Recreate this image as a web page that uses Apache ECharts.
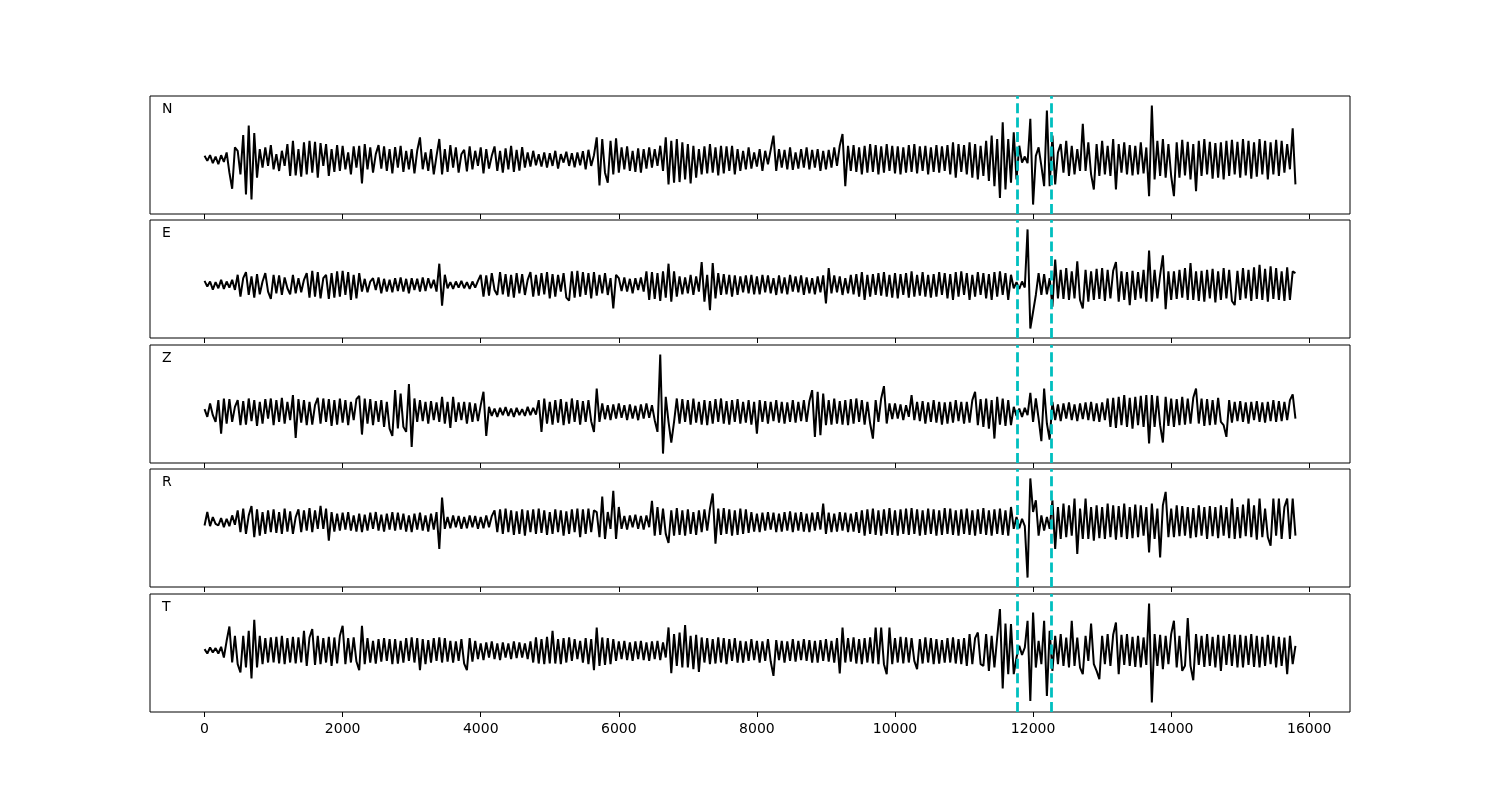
<!DOCTYPE html>
<html><head><meta charset="utf-8">
<script src="https://cdn.jsdelivr.net/npm/echarts@6/dist/echarts.min.js"></script>
<style>html,body{margin:0;padding:0;background:#fff}#c{width:1500px;height:800px}</style>
</head><body><div id="c"></div><script>
// sample spacing of the traces (x units); each row below = 1000 x units
const sampleStep = 40;
const channelNames = ['N', 'E', 'Z', 'R', 'T'];
const xTicks = [0, 2000, 4000, 6000, 8000, 10000, 12000, 14000, 16000];
const xRange = [-790, 16590];
const markerTimes = [11765, 12270];

const N = [
 10,-5,12,-12,8,-15,12,-8,20,-40,-88,35,25,-45,72,-105,100,-120,78,-55,30,-25,35,-20,42,
 -30,15,-35,25,-20,45,-50,55,-48,30,-52,50,-45,55,-40,52,-55,48,-20,45,-50,30,-38,42,-35,
 40,-30,20,-45,38,-25,40,-72,45,-30,35,-40,15,42,-28,38,-35,30,-42,36,-25,40,-38,25,-30,
 30,-42,25,65,-30,20,-35,30,-45,10,60,-45,30,-38,42,-25,35,-40,15,28,-36,38,-30,25,-20,
 35,-42,30,-28,10,38,-35,25,-40,32,-30,40,-38,28,-34,36,-25,20,-22,25,-18,15,-22,20,-25,
 18,-20,25,-28,15,-10,22,-20,18,-24,20,-18,24,-30,28,-20,12,65,-78,60,-40,-70,55,-45,62,
 -40,35,-30,38,-35,25,-38,32,-40,30,-28,35,-25,30,-20,40,-35,65,-75,55,-70,60,-68,50,-60,
 45,-72,40,-55,30,-45,38,-42,45,-40,35,-48,40,-42,38,-35,40,-45,30,-35,25,-30,35,-28,20,
 -22,30,-35,25,-15,28,70,-35,30,-25,28,-30,35,-32,20,-28,30,-25,35,-30,28,-25,30,-35,25,
 -30,28,-25,35,-20,40,75,-80,40,-35,42,-38,35,-45,40,-40,45,-38,42,-45,38,-40,45,-35,40,
 -42,38,-45,35,-40,42,-38,45,-42,38,-35,40,-45,35,-38,42,-40,38,-35,42,-45,50,-55,45,-38,
 42,-45,50,-55,45,-60,40,-50,55,-65,70,-80,60,-115,110,-90,60,-70,80,-60,40,-10,8,-12,120,
 -135,10,35,-20,-80,145,-80,70,-75,20,45,-40,55,-50,40,-45,30,-35,105,-35,50,-45,-90,45,-50,
 55,-45,40,-50,60,-90,45,-40,50,-45,42,-48,40,-45,50,-42,35,-110,160,-60,55,-50,60,-55,45,
 -50,-110,50,-55,58,-48,52,-60,45,-95,55,-50,60,-45,52,-58,48,-55,50,-60,55,-50,58,-45,52,
 -55,60,-48,55,-58,50,-52,60,-45,55,-60,50,-45,58,-50,55,-40,45,-30,92,-75
];
const E = [
 12,-5,10,-14,8,-10,15,-12,10,-8,15,-15,30,-35,20,38,-30,25,-38,32,-28,10,35,-20,-42,
 30,-25,28,-30,22,-10,-28,30,-25,20,-22,15,35,-38,42,-35,38,-40,20,30,-42,35,-38,40,-35,
 42,-30,38,-45,30,-40,35,-20,18,-22,10,20,-15,22,-25,18,-20,15,-22,20,-18,22,-20,18,-25,
 20,-15,18,-20,22,-18,20,-10,15,-20,63,-62,30,-10,8,-12,10,-8,12,-10,8,-12,10,-8,12,
 30,-35,28,-32,35,-15,-30,38,-28,32,-35,30,-38,35,-25,32,-30,15,38,-35,30,-32,35,-28,38,
 -40,32,-35,30,-20,35,-38,-47,40,-38,42,-35,38,-30,35,-40,38,-32,30,-25,35,-30,20,-70,30,
 20,-18,22,-20,18,-25,20,-15,22,-20,40,-45,38,-42,35,-48,40,-38,63,-50,40,-35,25,-28,22,
 -25,30,-30,25,-20,68,-50,30,-75,65,-40,35,-30,32,-28,30,-35,28,-30,25,-22,28,-25,30,-28,
 25,-28,30,-22,28,-25,20,-30,28,-25,22,-28,30,-20,25,-22,28,-30,22,-25,20,-28,25,-22,28,
 -55,50,-25,28,-22,25,-30,20,-25,30,-28,32,-35,38,-45,30,-35,32,-30,35,-32,38,-35,30,-38,
 35,-40,32,-30,35,-38,40,-35,30,-32,38,-35,30,-38,32,-35,38,-30,35,-40,32,-45,38,-35,40,
 -30,35,-45,30,-35,38,-30,35,-40,32,-45,38,-35,40,-30,35,-45,30,-10,8,-12,10,-8,165,-130,
 -80,-30,35,-30,32,-28,20,-65,75,-40,45,-42,50,-45,40,-40,70,-45,-70,45,-50,40,-45,48,-42,
 50,-48,45,-40,42,68,-50,40,-45,38,-60,42,-45,38,-40,45,-50,102,-50,45,-40,30,88,-72,40,
 -45,40,-42,45,-38,50,-45,65,-45,40,-48,42,-50,45,-40,48,-52,40,-45,50,-40,45,-48,-60,42,
 -45,50,-40,45,-48,52,-42,60,-45,48,-50,55,-42,50,-45,40,-48,52,-45,40,35
];
const Z = [
 8,-15,25,-10,-30,35,-65,40,-35,38,-30,15,35,-40,32,-38,40,-28,35,-42,30,-35,38,-20,40,
 -40,35,-30,42,-35,30,-25,50,-78,38,-32,35,-40,30,-38,20,42,-35,40,-30,38,-42,35,-38,40,
 -32,35,-40,30,-25,38,48,-68,40,-35,38,-40,32,-30,35,-45,30,-50,-72,65,-50,55,-45,-60,83,
 -105,40,-30,35,-28,30,-35,32,-25,28,-30,45,-35,30,-48,45,-30,28,-25,30,-35,28,-30,25,-28,
 20,60,-72,15,-12,10,-15,12,-10,14,-12,10,-15,12,-10,8,-12,15,-10,12,-8,35,-60,40,-35,
 30,-38,35,-32,38,-40,30,-35,40,-30,35,-38,32,-30,35,-28,-60,70,-30,25,-22,20,-25,22,-20,
 25,-18,20,-25,22,-20,18,-25,22,-20,25,-18,20,-25,-60,172,-125,45,-30,-92,-30,40,-35,38,-30,
 35,-38,40,-32,30,-38,35,-40,32,-35,38,-30,40,-35,32,-38,35,-30,38,-35,30,-32,35,-38,30,
 -65,35,-30,32,-35,30,-28,35,-32,30,-35,28,-30,35,-32,30,-28,35,-30,32,65,-75,60,-70,55,
 -40,35,-38,40,-35,32,-38,35,-40,38,-35,40,-30,35,-38,30,-35,-80,35,-30,40,77,-35,25,-22,
 25,-20,22,-25,20,-15,50,-25,30,-28,32,-35,28,-30,35,-32,30,-38,28,-35,30,-32,35,-28,30,
 -35,30,-32,35,60,-40,38,-45,40,-50,35,-80,45,-38,40,-42,35,-40,15,-12,10,-15,12,-10,57,
 -30,40,-20,-88,70,-35,-83,30,-25,22,-28,25,-20,28,-25,22,-28,25,-22,28,-25,30,-28,25,-30,
 28,-25,40,-45,42,-48,45,-40,50,-45,42,-50,45,-40,48,-45,50,-95,50,-45,48,-40,-92,45,-42,
 40,-45,38,-40,45,-38,40,-35,42,70,-35,40,-42,38,-40,35,-38,42,-30,-40,-75,35,-32,30,-28,
 32,-30,28,-35,30,-25,32,-30,28,-32,30,-28,35,-30,32,-28,30,-25,35,52,-20
];
const R = [
 -10,30,-12,15,-5,-10,12,-15,10,-12,20,-8,35,-30,40,-35,20,48,-45,38,-40,30,-35,35,-30,
 38,-32,30,-35,40,-28,32,-35,15,38,-30,35,-25,42,-30,35,-20,48,-20,40,-55,30,-28,25,-25,
 28,-22,30,-25,20,-28,25,-30,22,-25,28,-20,30,-25,22,-28,25,-22,30,-25,28,-22,25,-28,20,
 -30,25,-22,28,-25,20,-28,25,-22,30,-80,73,-20,15,-18,20,-15,18,-20,15,-18,20,-15,18,-20,
 15,-18,20,-15,18,35,-30,38,-35,40,-30,35,-38,32,-35,38,-40,35,-30,38,-35,40,-32,35,-38,
 30,-35,38,-30,35,-40,32,-35,38,-30,40,-45,38,-35,40,-30,35,30,-45,76,-50,30,-20,93,-50,
 45,-20,18,-22,20,-15,22,-20,18,-22,20,-15,63,-40,45,-38,40,-35,-62,35,-40,42,-38,35,-40,
 38,-35,30,-38,35,-30,38,-25,40,85,-64,40,-38,42,-35,38,-40,35,-38,40,-35,38,-32,30,-28,
 25,-30,28,-25,30,-22,28,-30,25,-28,30,-25,32,-30,28,-25,30,-28,25,-30,28,-25,30,-22,55,
 -35,28,-30,25,-28,30,-25,28,-30,25,-28,30,-32,35,-40,38,-35,40,-38,35,-40,38,-35,42,-38,
 35,-40,38,-35,40,-38,42,-35,38,-40,35,-38,40,-35,38,-40,35,-38,42,-35,40,-38,35,-40,38,
 -35,40,-38,35,-40,38,-35,42,-38,35,-40,38,-35,40,-38,35,-40,45,-20,15,-18,10,-12,-165,130,
 30,65,-40,20,-25,15,-20,65,-80,45,-50,55,-45,50,-40,70,-95,40,-50,70,-50,45,-55,50,-48,
 45,-50,55,-45,50,-52,48,-45,55,-50,45,-48,52,-45,50,-40,45,-90,55,-50,40,-105,50,90,-45,
 40,-45,50,-42,48,-40,45,-48,42,-45,50,-40,45,-50,48,-42,45,-48,50,-40,45,-48,70,-50,45,
 -48,52,-42,70,-45,50,-52,70,-45,40,-45,-70,70,-40,70,-50,45,70,-50,70,-40
];
const T = [
 5,-8,10,-5,8,-8,12,-20,30,73,-35,45,-40,-65,45,-50,60,-83,93,-50,45,-40,38,-35,40,
 -35,42,-38,45,-40,38,-35,42,-38,40,-35,60,-45,40,65,-42,45,-40,38,-35,42,-45,40,-38,45,
 75,-40,38,-35,40,-32,-58,75,-40,38,-35,30,-38,35,-32,38,-30,35,-40,35,-38,30,-35,38,-30,
 40,-35,38,-58,35,-40,32,-35,38,-30,40,-35,38,-32,30,-35,28,-30,35,-38,-58,38,-32,30,-25,
 22,-28,25,-20,28,-25,22,-28,25,-20,22,-25,28,-22,25,-20,22,-25,28,-35,40,-38,35,-40,42,
 -38,60,-38,35,-40,38,-35,40,-30,35,-25,30,-35,38,-40,35,-58,70,-45,40,-42,38,-40,35,-30,
 28,-25,30,-28,25,-30,28,-25,30,-28,25,-30,28,-25,30,-28,25,-20,70,-67,50,-45,55,-50,77,
 -50,45,-55,48,-63,40,-35,38,-40,35,-38,40,-35,38,-40,35,-30,38,-35,30,-35,28,-30,35,-28,
 30,-35,28,-30,35,-32,-75,32,-28,30,-35,28,-30,35,-32,30,-28,35,-30,32,-35,30,-35,32,-30,
 35,-32,30,-35,38,-68,70,-35,38,-32,40,-38,35,-40,38,-35,40,-38,70,-40,70,-40,-70,70,-40,
 38,-35,42,-38,40,-35,38,-30,-55,35,-38,40,-35,38,-40,35,-38,32,-35,38,-35,40,-38,35,-40,
 38,-45,50,-40,38,55,-40,-45,50,-60,45,-50,40,125,-113,82,-70,80,-70,-20,15,-12,10,90,-150,
 115,-50,30,-40,90,-135,60,-60,45,-40,50,-45,40,-50,90,-45,40,-50,-70,45,-30,82,-40,-60,-85,
 45,-40,50,-45,48,85,-70,48,-42,50,-45,42,-48,45,-50,40,-42,142,-155,50,-45,48,-55,45,-40,
 50,90,-50,45,-60,-45,98,-45,-88,50,-42,45,-48,50,-45,42,-50,48,-60,45,-42,50,-45,48,-50,
 48,-50,45,-42,50,-48,45,-50,42,-45,48,-40,45,-50,42,-45,40,-70,45,-40,15
];

const traces = [N, E, Z, R, T];
const panelTops = [96, 220, 345, 469, 594];
const panelHeight = 118;
const FONT = 'DejaVu Sans';
const yPad = 0.095;

const grid = [], xAxis = [], yAxis = [], series = [], graphic = [];
traces.forEach((tr, i) => {
  grid.push({left: 150, width: 1200, top: panelTops[i], height: panelHeight,
    show: true, borderColor: '#000', borderWidth: 1, backgroundColor: 'transparent'});
  xAxis.push({type: 'value', gridIndex: i, min: xRange[0], max: xRange[1], position: 'bottom',
    axisLine: {show: false, onZero: false},
    axisTick: {show: true, length: 5, inside: false, customValues: xTicks, lineStyle: {color: '#000', width: 1}},
    axisLabel: {show: i === traces.length - 1, customValues: xTicks, formatter: v => String(v),
      color: '#000', fontSize: 14, fontFamily: FONT, margin: 10},
    splitLine: {show: false}});
  yAxis.push({type: 'value', gridIndex: i, scale: true,
    min: v => v.min - yPad * (v.max - v.min),
    max: v => v.max + yPad * (v.max - v.min),
    axisLine: {show: false, onZero: false}, axisTick: {show: false}, axisLabel: {show: false}, splitLine: {show: false}});
  series.push({type: 'line', xAxisIndex: i, yAxisIndex: i, name: channelNames[i],
    data: tr.map((v, k) => [k * sampleStep, v]),
    symbol: 'none', showSymbol: false, smooth: false, animation: false,
    lineStyle: {color: '#000', width: 2}, z: 2,
    markLine: {silent: true, symbol: ['none', 'none'], animation: false, label: {show: false},
      lineStyle: {color: '#00bfbf', width: 2.8, type: [10, 4.4]},
      data: markerTimes.map(t => ({xAxis: t}))}});
  graphic.push({type: 'text', left: 162, top: panelTops[i] + 6,
    style: {text: channelNames[i], fontSize: 14, fontFamily: FONT, fill: '#000'}});
});

const chart = echarts.init(document.getElementById('c'), null, {renderer: 'canvas'});
chart.setOption({animation: false, backgroundColor: '#fff', grid, xAxis, yAxis, series, graphic});
</script></body></html>
